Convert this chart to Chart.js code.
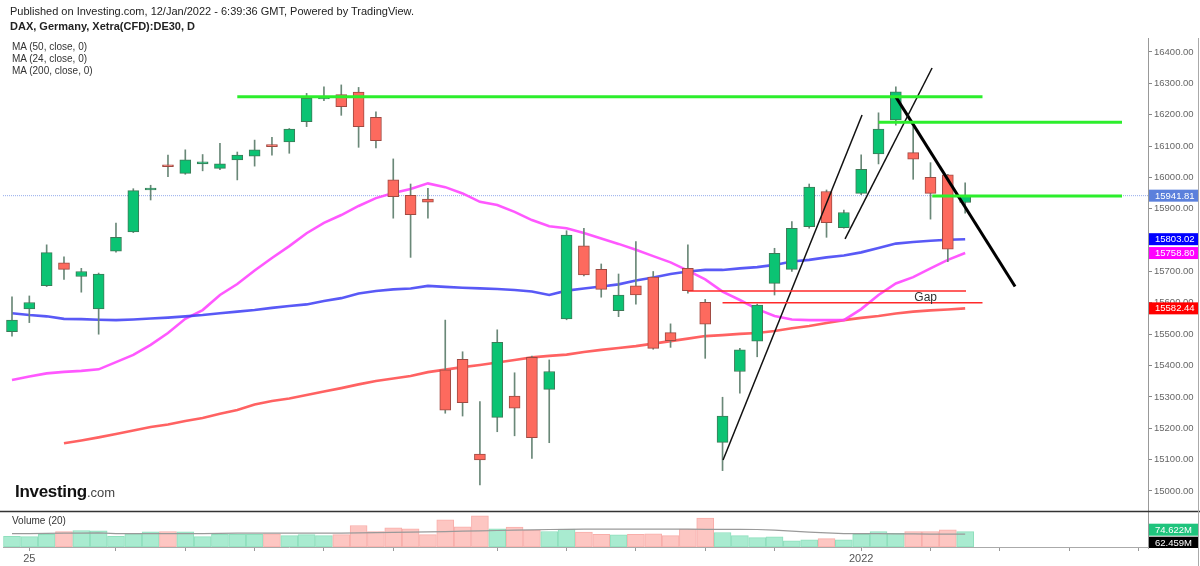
<!DOCTYPE html>
<html>
<head>
<meta charset="utf-8">
<script src="https://cdn.jsdelivr.net/npm/chart.js@4.4.1/dist/chart.umd.min.js"></script>
<style>
body{margin:0;background:#fff;font-family:"Liberation Sans",Arial,sans-serif;}
#wrap{position:relative;width:1200px;height:566px;overflow:hidden;}
#c{position:absolute;left:0;top:0;}
.t{position:absolute;white-space:nowrap;color:#222;line-height:1;}
</style>
</head>
<body>
<div id="wrap">
<canvas id="c" width="1200" height="566"></canvas>
<div class="t" style="left:10px;top:6px;font-size:11px;">Published on Investing.com, 12/Jan/2022 - 6:39:36 GMT, Powered by TradingView.</div>
<div class="t" style="left:10px;top:21px;font-size:11px;font-weight:bold;">DAX, Germany, Xetra(CFD):DE30, D</div>
<div class="t" style="left:12px;top:42px;font-size:10px;color:#333;">MA (50, close, 0)</div>
<div class="t" style="left:12px;top:54px;font-size:10px;color:#333;">MA (24, close, 0)</div>
<div class="t" style="left:12px;top:66px;font-size:10px;color:#333;">MA (200, close, 0)</div>
<div class="t" style="left:12px;top:516px;font-size:10px;color:#333;">Volume (20)</div>
<div class="t" style="left:15px;top:483px;font-size:17px;font-weight:bold;color:#111;letter-spacing:-0.3px;">Investing<span style="font-size:13px;font-weight:normal;color:#444;letter-spacing:0;">.com</span></div>
</div>
<script>
// daily DAX candles, 22 Oct 2021 .. 11 Jan 2022
const opens  = [15508,15581,15655,15728,15684,15581,15765,15826,15960,16038,16013,16043,16029,16056,16068,16104,16113,16178,16250,16264,16272,16192,15992,15943,15931,15386,15420,15118,15235,15303,15426,15324,15549,15782,15707,15575,15654,15682,15505,15710,15602,15155,15381,15478,15662,15707,15843,15955,15840,15949,16075,16183,16079,16000,16008,15920];
const highs  = [15619,15622,15785,15747,15710,15695,15854,15964,15975,16071,16088,16073,16109,16081,16119,16128,16156,16268,16289,16295,16287,16209,16059,15979,15965,15545,15444,15285,15514,15377,15430,15418,15830,15838,15724,15692,15795,15700,15533,15785,15611,15299,15455,15596,15774,15859,15979,15960,15896,16072,16206,16289,16162,16047,16010,15983];
const lows   = [15494,15537,15652,15675,15634,15500,15762,15824,15928,16002,16010,16021,16025,15992,16036,16071,16077,16162,16245,16198,16096,16094,15870,15745,15870,15248,15239,15019,15189,15176,15104,15154,15546,15686,15618,15556,15596,15452,15458,15631,15423,15065,15312,15428,15625,15700,15838,15809,15838,15945,16043,16167,15994,15867,15731,15886];
const closes = [15545,15601,15760,15707,15700,15692,15809,15958,15963,16034,16056,16050,16043,16071,16088,16098,16154,16252,16254,16226,16162,16117,15939,15881,15921,15258,15282,15099,15474,15264,15170,15381,15816,15689,15643,15625,15625,15455,15479,15639,15532,15239,15450,15593,15758,15838,15969,15856,15888,16026,16154,16273,16058,15949,15771,15941.81];

// volume in millions and its 20-day average
const volumes = [52.5,50.8,62.3,75.4,80.4,78.7,52.5,64,73.8,75.4,73.8,50.8,62.3,62.3,62.3,64,55.8,60.7,55.8,60.7,105,75.4,93.5,88.6,60.7,132.8,98.4,152.5,88.6,96.8,82,75.4,86.9,72.2,62.3,59,62.3,64,55.8,86.9,141,70.5,55.8,45.9,49.2,29.5,34.4,41,34.4,62.3,75.4,67.2,75.4,75.4,83.6,74.622];
const volMA20 = [65.6,65.6,66.4,67.2,68.1,68.9,65.6,65.6,65.6,65.6,65.6,65.6,66.4,67.2,67.2,67.2,67.2,67.2,67.2,67.2,68.9,70.5,71.3,72.2,73.8,75.4,77.1,78.7,80.4,82,83.6,85.3,86.1,86.9,86.9,86.9,86.9,86.9,86.9,86.9,86.1,86.1,86.1,85.3,82,77.1,72.2,68.9,65.6,65.6,64.8,64,64,63.1,63.1,62.459];

// moving averages
const ma50  = [15567,15561,15557,15549,15548,15546,15545,15547,15550,15553,15557,15561,15567,15572,15577,15584,15590,15595,15606,15615,15630,15638,15643,15646,15654,15651,15648,15646,15644,15641,15636,15625,15639,15646,15652,15659,15671,15681,15692,15700,15705,15705,15710,15714,15721,15732,15737,15745,15751,15761,15775,15789,15794,15798,15801,15803.02];
const ma24  = [15354,15365,15375,15380,15383,15388,15411,15434,15466,15504,15549,15577,15625,15660,15703,15743,15781,15822,15855,15880,15909,15934,15950,15963,15981,15969,15949,15922,15912,15890,15864,15844,15838,15823,15805,15788,15769,15749,15729,15703,15675,15636,15609,15580,15558,15547,15545,15545,15545,15580,15625,15662,15682,15710,15737,15758.80];
const ma200 = [null,null,null,15152,15161,15171,15182,15193,15204,15212,15223,15233,15246,15258,15276,15287,15295,15306,15317,15328,15340,15351,15359,15367,15379,15387,15395,15402,15410,15418,15426,15431,15435,15443,15450,15456,15462,15470,15478,15486,15494,15497,15501,15504,15510,15519,15526,15536,15545,15552,15558,15566,15572,15576,15579,15582.44];

// drawn levels: [fromIndex, toIndex, price]
const greenLevels = [[13.0,56.0,16257],[50.0,64.05,16176],[53.1,64.05,15941]];
const gapLevels   = [[39.0,55.05,15638],[41.0,56.0,15600]];
// trend lines: [fromIndex, fromPrice, toIndex, toPrice]
const thinTrends  = [[41.03,15099,49.05,16199],[48.07,15804,53.09,16349]];
const thickTrend  = [51.0,16257,57.88,15652];

const priceTicks = [15000,15100,15200,15300,15400,15500,15600,15700,15800,15900,16000,16100,16200,16300,16400];
const xTickIdx   = [1,6,10,14,18,22,28,32,36,40,44,49,53,57,61,65];
const xTickText  = ['25','','','','','','','','','','','2022','','','',''];

const X_MIN = -0.519, X_MAX = 65.55;
const up = closes.map((c, i) => c >= opens[i]);

Chart.defaults.font.family = '"Liberation Sans", Arial, sans-serif';
Chart.defaults.font.size = 11;
Chart.defaults.color = '#555';

const datasets = [];
greenLevels.forEach(g => datasets.push({
  type: 'line', data: [{x: g[0], y: g[2]}, {x: g[1], y: g[2]}],
  borderColor: '#2cee2c', borderWidth: 3, pointRadius: 0, order: 0
}));
gapLevels.forEach(g => datasets.push({
  type: 'line', data: [{x: g[0], y: g[2]}, {x: g[1], y: g[2]}],
  borderColor: '#ff2a2a', borderWidth: 1.5, pointRadius: 0, order: 0
}));
thinTrends.forEach(t => datasets.push({
  type: 'line', data: [{x: t[0], y: t[1]}, {x: t[2], y: t[3]}],
  borderColor: '#111', borderWidth: 1.5, pointRadius: 0, order: 0
}));
datasets.push({
  type: 'line', data: [{x: thickTrend[0], y: thickTrend[1]}, {x: thickTrend[2], y: thickTrend[3]}],
  borderColor: '#000', borderWidth: 3, pointRadius: 0, order: 0
});

// candle bodies
datasets.push({
  type: 'bar', data: opens.map((o, i) => ({x: i, y: [o, closes[i]]})),
  backgroundColor: up.map(u => u ? '#0bc373' : '#fd6a5e'),
  borderColor: up.map(u => u ? '#3d7a58' : '#9e4a42'),
  borderWidth: 1, borderSkipped: false, barThickness: 11, minBarLength: 2,
  grouped: false, order: 1
});
// wicks
datasets.push({
  type: 'bar', data: lows.map((l, i) => ({x: i, y: [l, highs[i]]})),
  backgroundColor: '#6a8878', barThickness: 1, grouped: false, order: 2
});

const maLine = (arr, color) => ({
  type: 'line', data: arr.map((v, i) => ({x: i, y: v})).filter(p => p.y !== null),
  borderColor: color, borderWidth: 2.6, pointRadius: 0, tension: 0, order: 3
});
datasets.push(maLine(ma50, 'rgba(60,60,245,0.85)'));
datasets.push(maLine(ma24, 'rgba(255,70,255,0.9)'));
datasets.push(maLine(ma200, 'rgba(255,70,70,0.85)'));

// last price dotted line
datasets.push({
  type: 'line', data: [{x: X_MIN, y: closes[closes.length - 1]}, {x: X_MAX, y: closes[closes.length - 1]}],
  borderColor: '#94abeb', borderWidth: 1, borderDash: [1, 1], pointRadius: 0, order: 4
});

// volume
datasets.push({
  type: 'line', yAxisID: 'yv', data: volMA20.map((v, i) => ({x: i, y: v})),
  borderColor: '#9a9a9a', borderWidth: 1.2, pointRadius: 0, order: 5
});
datasets.push({
  type: 'bar', yAxisID: 'yv', data: volumes.map((v, i) => ({x: i, y: v})),
  backgroundColor: up.map(u => u ? '#a9ebd0' : '#fdc6c2'),
  borderColor: up.map(u => u ? '#8fdfbd' : '#f8aeaa'),
  borderWidth: 1, borderSkipped: false, barThickness: 17, grouped: false, order: 6
});

const overlay = {
  id: 'overlay',
  afterDraw(chart) {
    const ctx = chart.ctx, a = chart.chartArea;
    const ys = chart.scales.y, yv = chart.scales.yv, xs = chart.scales.x;
    ctx.save();
    // pane separator and outer frame
    ctx.strokeStyle = '#333'; ctx.lineWidth = 1.5;
    ctx.beginPath(); ctx.moveTo(0, 511.5); ctx.lineTo(1200, 511.5); ctx.stroke();
    ctx.strokeStyle = '#aaa'; ctx.lineWidth = 1;
    ctx.beginPath(); ctx.moveTo(1198.5, a.top); ctx.lineTo(1198.5, 566); ctx.stroke();
    ctx.beginPath(); ctx.moveTo(a.right + 0.5, a.bottom); ctx.lineTo(a.right + 0.5, a.bottom + 2); ctx.stroke();

    // "Gap" note
    ctx.fillStyle = '#333';
    ctx.font = '12px "Liberation Sans", Arial, sans-serif';
    ctx.textAlign = 'center'; ctx.textBaseline = 'middle';
    ctx.fillText('Gap', xs.getPixelForValue(52.72), ys.getPixelForValue(15616));

    // value tags on the right axis
    const last = arr => arr[arr.length - 1];
    const tag = (y, text, bg) => {
      ctx.fillStyle = bg;
      ctx.fillRect(a.right + 1, y - 6, 49, 12);
      ctx.fillStyle = '#fff';
      ctx.textAlign = 'left';
      ctx.fillText(text, a.right + 7, y + 0.5);
    };
    ctx.font = '9.5px "Liberation Sans", Arial, sans-serif';
    tag(ys.getPixelForValue(last(closes)), last(closes).toFixed(2), '#5b80dc');
    tag(ys.getPixelForValue(last(ma50)), last(ma50).toFixed(2), '#0000ff');
    tag(ys.getPixelForValue(last(ma24)), last(ma24).toFixed(2), '#ff00ff');
    tag(ys.getPixelForValue(last(ma200)), last(ma200).toFixed(2), '#ff0000');
    const vy = yv.getPixelForValue(last(volumes)) - 2;
    tag(vy, last(volumes).toFixed(3) + 'M', '#1fc47d');
    ctx.save();
    ctx.beginPath(); ctx.rect(a.right, 0, 60, a.bottom + 1); ctx.clip();
    ctx.fillStyle = '#000';
    ctx.fillRect(a.right + 1, vy + 7, 49, 12);
    ctx.fillStyle = '#fff';
    ctx.fillText(last(volMA20).toFixed(3) + 'M', a.right + 7, vy + 13.5);
    ctx.restore();
    ctx.restore();
  }
};

new Chart(document.getElementById('c'), {
  type: 'bar',
  data: {datasets},
  options: {
    responsive: false,
    animation: false,
    layout: {padding: {left: 3, top: 38, right: 0, bottom: 0}},
    plugins: {legend: {display: false}, tooltip: {enabled: false}},
    scales: {
      x: {
        type: 'linear', min: X_MIN, max: X_MAX, offset: false,
        afterBuildTicks: s => { s.ticks = xTickIdx.map(v => ({value: v})); },
        afterFit: s => { s.height = 19; },
        ticks: {
          autoSkip: false, maxRotation: 0, padding: 1, color: '#555',
          callback: v => { const k = xTickIdx.indexOf(v); return k >= 0 ? xTickText[k] : ''; }
        },
        grid: {drawOnChartArea: false, offset: false, tickLength: 4, color: '#999'},
        border: {display: true, color: '#aaa'}
      },
      y: {
        position: 'right', min: 14821.4, max: 16444.6,
        afterBuildTicks: s => { s.ticks = priceTicks.map(v => ({value: v})); },
        afterFit: s => { s.width = 52; },
        ticks: {padding: 2, color: '#666', font: {size: 9.5}, callback: v => Number(v).toFixed(2)},
        grid: {drawOnChartArea: false, tickLength: 4, color: '#888'},
        border: {display: true, color: '#999'}
      },
      yv: {display: false, min: 0, max: 2482}
    }
  },
  plugins: [overlay]
});
</script>
</body>
</html>
